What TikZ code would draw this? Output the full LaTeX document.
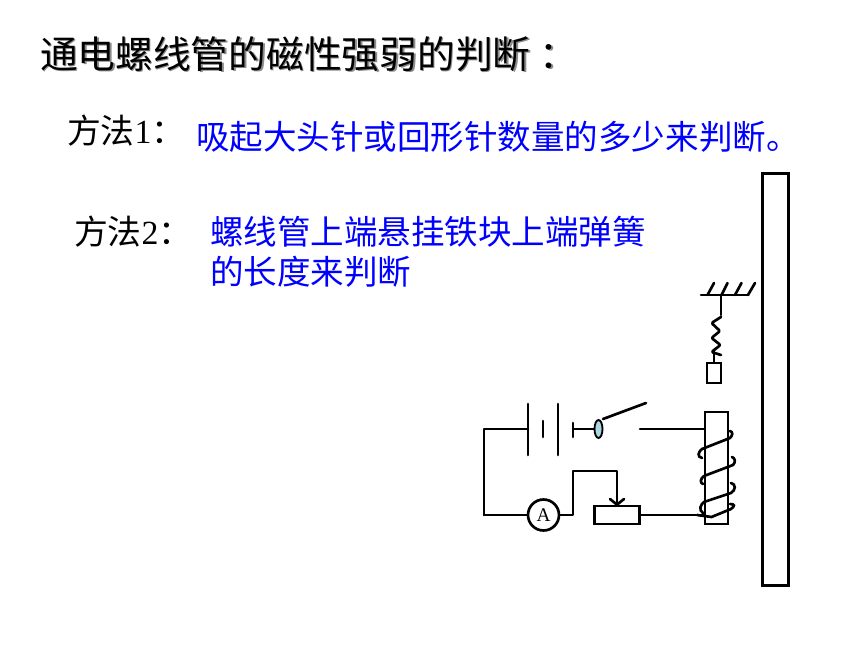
\documentclass[tikz,border=0pt]{standalone}
\usepackage{fontspec}
\usetikzlibrary{shapes.geometric}
\setmainfont{Liberation Serif}
\newfontfamily\cjk{Noto Sans CJK SC}
\definecolor{txtblue}{RGB}{0,0,255}
\definecolor{knob}{RGB}{170,215,225}
\tikzset{
 x=0.75pt,y=-0.75pt,
 wire/.style={line width=2pt,line join=round,line cap=round,draw=black},
 coilw/.style={line width=2pt,line cap=round,draw=black},
 txt/.style={anchor=west,inner sep=0pt,outer sep=0pt},
 titletxt/.style={txt,font=\cjk\fontsize{28.3pt}{30pt}\selectfont},
 bodytxt/.style={txt,font=\cjk\fontsize{25.15pt}{30pt}\selectfont},
 methodtxt/.style={txt,font=\fontsize{25.35pt}{30pt}\selectfont},
}
\newcommand{\titlestr}{通电螺线管的磁性强弱的判断\hspace{7pt}：}
\begin{document}
\begin{tikzpicture}
\useasboundingbox (0,0) rectangle (860,645);
\fill[white] (0,0) rectangle (860,645);
% texts
\node[titletxt,text=black!45] at (41.5,55.5) {\titlestr};
\node[titletxt] (title) at (40,54) {\titlestr};
\node[methodtxt] (m1) at (67,131) {{\cjk 方法}1{\cjk ：}};
\node[bodytxt,text=txtblue] (b1) at (196,137) {吸起大头针或回形针数量的多少来判断。};
\node[methodtxt] (m2) at (74,232) {{\cjk 方法}2{\cjk ：}};
\node[bodytxt,text=txtblue] (b2a) at (210,232) {螺线管上端悬挂铁块上端弹簧};
\node[bodytxt,text=txtblue] (b2b) at (210,272) {的长度来判断};
% wall
\node[draw,line width=2pt,minimum width=26pt*0.75,minimum height=412pt*0.75,inner sep=0pt] (wall) at (775.5,379.5) {};
% support and spring
\coordinate (cl) at (701,295); \coordinate (cr) at (748,295); \coordinate (ct) at (721,295);
\draw[wire] (cl) -- (cr);
\draw[wire] (707.5,295) -- (714,283) (721.5,295) -- (727.5,283) (735,295) -- (741.5,283) (cr) -- (755,283);
\node[draw,line width=2pt,minimum width=14pt*0.75,minimum height=20pt*0.75,inner sep=0pt] (block) at (714,373) {};
\draw[wire] (ct) -- (721,315);
\draw[wire,rounded corners=1pt] (721,317) -- (711.5,323) -- (720,331) -- (711.5,338) -- (720.5,345) -- (711.5,352) -- (721,355);
\draw[wire] (714,350) -- (block.north);
% core
\node[draw,line width=2pt,minimum width=23pt*0.75,minimum height=112pt*0.75,inner sep=0pt] (core) at (716.5,468) {};
% battery
\coordinate (tl) at (484,429); \coordinate (bl) at (484,515);
\coordinate (p1) at (528,429); \coordinate (p4) at (573,429);
\draw[wire] (528,404) -- (528,455);
\draw[wire] (543,421) -- (543,437);
\draw[wire] (558,404) -- (558,455);
\draw[wire] (573,423) -- (573,437);
\node[draw,line width=1.4pt,fill=knob,ellipse,minimum width=8pt*0.75,minimum height=18pt*0.75,inner sep=0pt] (knobn) at (598.5,429) {};
\draw[wire] (p4) -- (knobn.west);
\draw[wire] (603,419) -- (646,403);
\coordinate (s2) at (640,429);
\draw[wire] (s2) -- (s2 -| core.west);
\draw[wire] (p1) -- (tl) -- (bl);
% ammeter
\node[draw,circle,line width=2pt,minimum size=31pt*0.75,inner sep=0pt,font=\fontsize{14.5pt}{16pt}\selectfont] (amm) at (543.5,515) {A};
\draw[wire] (bl) -- (amm.west);
% rheostat
\node[draw,line width=2pt,minimum width=45pt*0.75,minimum height=18pt*0.75,inner sep=0pt] (rh) at (617,515) {};
\draw[wire] (amm.east) -- (573,515) -- (573,471) -- (617,471) -- (rh.north);
\draw[wire] (610,499) -- (rh.north) -- (624,499);
\draw[wire] (rh.east) -- (704,515);
% coil
\draw[coilw] (697,515) -- (711.5,517) -- (731,509) .. controls (735,506) and (735,504) .. (730,504);
\draw[coilw] (703,513) .. controls (698,510) and (701,504) .. (704,502) -- (731,493) .. controls (736,490) and (736,484) .. (731,483);
\draw[coilw] (704,476) .. controls (700,479) and (700,483) .. (703,484);
\draw[coilw] (704,476) -- (733,465) .. controls (736,462) and (735,458) .. (732,457);
\draw[coilw] (702,458) .. controls (697,457) and (698,452) .. (702,449) -- (730,438) .. controls (733,435) and (733,432) .. (730,431);
\end{tikzpicture}
\end{document}
